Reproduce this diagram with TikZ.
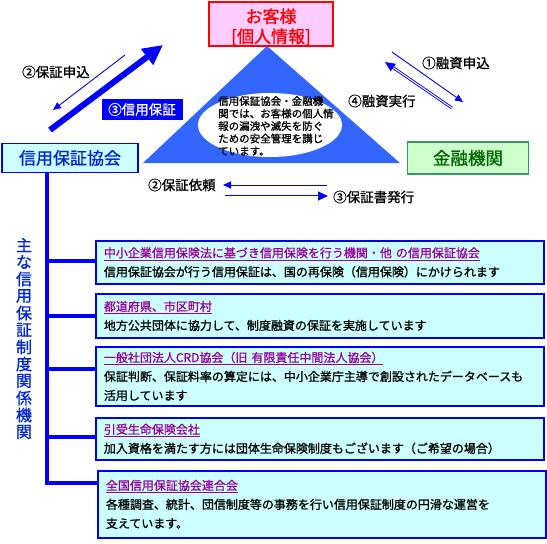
\documentclass[tikz,border=0pt]{standalone}
\usepackage{fontspec}
\setmainfont{Noto Sans CJK JP}[FakeBold=1]
\usetikzlibrary{arrows.meta,positioning}

\definecolor{cor_tri}{RGB}{51,102,255}
\definecolor{cor_blue}{RGB}{0,0,255}
\definecolor{cor_darkblue}{RGB}{0,40,210}
\definecolor{cor_cyan}{RGB}{204,255,255}
\definecolor{cor_pink}{RGB}{255,204,255}
\definecolor{cor_green}{RGB}{204,255,204}
\definecolor{cor_greenline}{RGB}{51,153,102}
\definecolor{cor_greentext}{RGB}{0,102,0}
\definecolor{cor_purple}{RGB}{153,0,153}

\begin{document}
\begin{tikzpicture}[x=1pt,y=-1pt]
        \tikzset{
            caixa/.style={
                draw=cor_blue,
                line width=1.8pt,
                fill=cor_cyan,
                anchor=north west,
                minimum width=448pt,
                minimum height=#1,
                text width=432pt,
                align=left,
                inner xsep=8pt,
                font=\fontsize{12}{19}\selectfont
            },
            rotulo/.style={
                anchor=west,
                inner sep=0pt,
                font=\fontsize{13.5}{14}\selectfont
            },
            fina/.style={
                cor_blue,
                line width=0.9pt,
                -{Triangle[length=8pt,width=7pt]}
            },
            dupla/.style={
                draw=cor_blue,
                double=white,
                double distance=1pt,
                line width=0.9pt,
                -{Triangle[length=10pt,width=9pt]}
            },
            tronco/.style={cor_blue, line width=4pt}
        }
        \useasboundingbox (0,0) rectangle (547,544);

        \fill[cor_tri] (267,46) -- (143,163) -- (400,163) -- cycle;
        \fill[white] (270,125) ellipse (72 and 32);
        \node[anchor=north west, inner sep=0pt, align=left,
              font=\fontsize{10.5}{12.5}\selectfont] (nota) at (218,96)
            {信用保証協会・金融機\\関では、お客様の個人情\\報の漏洩や滅失を防ぐ\\ための安全管理を講じ\\ています。};

        \node[draw=red, line width=2pt, fill=cor_pink, minimum width=124pt,
              minimum height=44pt] (cliente) at (271,24) {};
        \node[align=center, text=red, inner sep=0pt,
              font=\fontsize{17}{20}\selectfont] (cliente_txt) at ([yshift=-3pt]cliente.center)
            {お客様\\{[個人情報]}};
        \node[draw=cor_blue, line width=1.6pt, fill=cor_cyan, minimum width=136pt,
              minimum height=29pt, text=cor_darkblue,
              font=\fontsize{17}{20}\selectfont] (hosho) at (70,158) {信用保証協会};
        \node[draw=cor_greenline, line width=1.6pt, fill=cor_green, minimum width=121pt,
              minimum height=32pt, text=cor_greentext,
              font=\fontsize{17.5}{20}\selectfont] (kinyu) at (468,158) {金融機関};
        \node[fill=cor_blue, text=white, minimum width=81pt, minimum height=21pt,
              font=\fontsize{13.5}{14}\selectfont] (shin) at (142,109.5) {③信用保証};

        % setas de cima
        \coordinate (g1) at (50,130);
        \coordinate (g2) at (163,45);
        \coordinate (m1) at (125,55);
        \coordinate (m2) at (53,110);
        \coordinate (y1) at (392,52);
        \coordinate (y2) at (463,102);
        \coordinate (j1) at (452,108);
        \coordinate (j2) at (385,62);
        \draw[cor_blue, line width=6pt, -{Triangle[length=20pt,width=19pt]}] (g1) -- (g2);
        \draw[fina] (m1) -- (m2);
        \draw[fina] (y1) -- (y2);
        \draw[dupla] (j1) -- (j2);

        % setas de baixo
        \coordinate (i1) at (327,185);
        \coordinate (i2) at (223,185);
        \coordinate (h1) at (225,196);
        \coordinate (h2) at (328,196);
        \draw[fina] (i1) -- (i2);
        \draw[dupla] (h1) -- (h2);

        \node[rotulo] (l1) at (22,72) {②保証申込};
        \node[rotulo] (l2) at (422,63) {①融資申込};
        \node[rotulo] (l3) at (348,101) {④融資実行};
        \node[rotulo] (l4) at (148,185) {②保証依頼};
        \node[rotulo] (l5) at (333,197) {③保証書発行};

        % caixas de baixo
        \node[caixa=43pt] (caixa1) at (95,240)
            {\textcolor{cor_purple}{\underline{中小企業信用保険法に基づき信用保険を行う機関・他 の信用保証協会}}\\
             信用保証協会が行う信用保証は、国の再保険（信用保険）にかけられます};
        \node[caixa=44pt] (caixa2) at (95,293)
            {\textcolor{cor_purple}{\underline{都道府県、市区町村}}\\
             地方公共団体に協力して、制度融資の保証を実施しています};
        \node[caixa=59pt] (caixa3) at (95,346)
            {\textcolor{cor_purple}{\underline{一般社団法人CRD協会（旧 有限責任中間法人協会）}}\\
             保証判断、保証料率の算定には、中小企業庁主導で創設されたデータベースも\\
             活用しています};
        \node[caixa=42pt] (caixa4) at (95,417)
            {\textcolor{cor_purple}{\underline{引受生命保険会社}}\\
             加入資格を満たす方には団体生命保険制度もございます（ご希望の場合）};
        \node[caixa=67pt, minimum width=446pt] (caixa5) at (97,470)
            {\textcolor{cor_purple}{\underline{全国信用保証協会連合会}}\\
             各種調査、統計、団信制度等の事務を行い信用保証制度の円滑な運営を\\
             支えています。};

        \draw[tronco] (hosho.south -| 47,0) |- (caixa5.west |- 0,483);
        \foreach \n/\y in {1/261,2/316,3/369,4/437} {
            \draw[tronco] (47,\y) -- (caixa\n.west |- 0,\y);
        }

        \foreach \c [count=\i] in {主,な,信,用,保,証,制,度,関,係,機,関} { %TEXTO VERTICAL
            \node[text=cor_darkblue, inner sep=0pt, font=\fontsize{16}{16}\selectfont]
                (v\i) at (24,{245+17*(\i-1)}) {\c};
        }

    \end{tikzpicture}
\end{document}
